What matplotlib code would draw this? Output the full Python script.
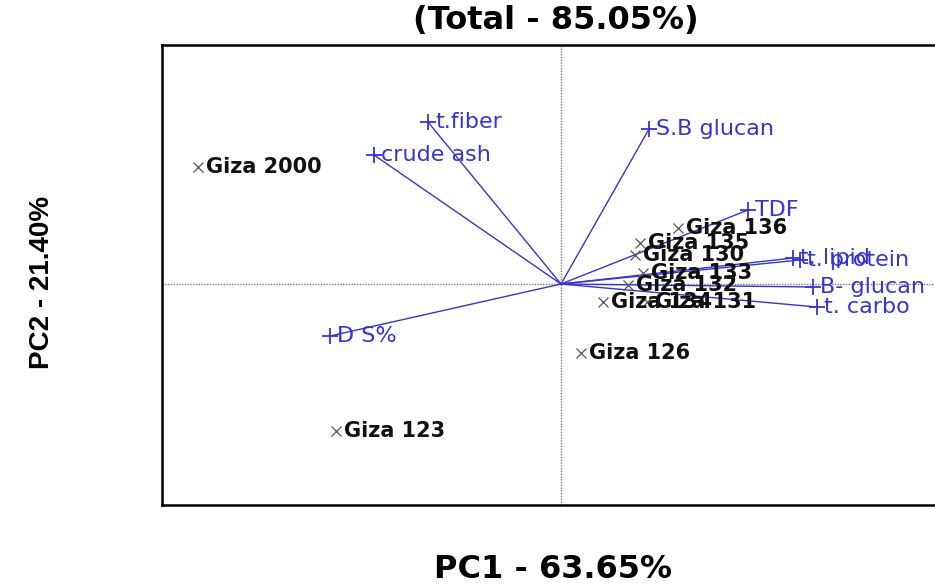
import matplotlib
matplotlib.use("Agg")
import matplotlib.pyplot as plt

plt.rcParams["font.family"] = ["DejaVu Sans"]

# genotype scores (PC1, PC2)
geno_names = ["Giza 2000", "Giza 123", "Giza 126", "Giza 136", "Giza 135", "Giza 130",
              "Giza 133", "Giza 132", "Giza 134", "Giza 131"]
geno_pc1 = [-3.63, -2.25, 0.20, 1.17, 0.79, 0.74, 0.82, 0.67, 0.42, 0.86]
geno_pc2 = [1.17, -1.47, -0.69, 0.56, 0.41, 0.29, 0.11, -0.01, -0.18, -0.18]

# trait loadings (PC1, PC2)
trait_names = ["t.fiber", "crude ash", "S.B glucan", "TDF", "t. lipid", "t. protein",
               "B- glucan", "t. carbo", "D S%"]
trait_pc1 = [-1.33, -1.87, 0.88, 1.87, 2.32, 2.39, 2.52, 2.56, -2.31]
trait_pc2 = [1.62, 1.29, 1.55, 0.74, 0.26, 0.24, -0.03, -0.23, -0.52]

blue = "#3535d0"

fig = plt.figure(figsize=(9.35, 5.86), dpi=100)
ax = fig.add_axes([162 / 935, 81 / 586, 798 / 935, 460 / 586])
ax.set_xlim(-3.99, 3.99)
ax.set_ylim(-2.21, 2.39)

ax.axvline(0, color="#777777", lw=1, ls=(0, (1, 1)))
ax.axhline(0, color="#777777", lw=1, ls=(0, (1, 1)))

for x, y, name in zip(trait_pc1, trait_pc2, trait_names):
    ax.plot([0, x], [0, y], color=blue, lw=1)
    ax.plot(x, y, marker="+", color=blue, ms=12, mew=1.3)
    ax.annotate(name, (x, y), xytext=(5, 0), textcoords="offset points",
                va="center", ha="left", color=blue, fontsize=16)

ax.plot(geno_pc1, geno_pc2, ls="none", marker="x", color="#555555", ms=6.5, mew=0.9)
for x, y, name in zip(geno_pc1, geno_pc2, geno_names):
    ax.annotate(name, (x, y), xytext=(6, 0), textcoords="offset points",
                va="center", ha="left", color="#111111", fontsize=15, fontweight="bold")

ax.set_xticks([])
ax.set_yticks([])
for side in ["left", "bottom", "top"]:
    ax.spines[side].set_linewidth(1.8)
ax.spines["right"].set_visible(False)

fig.text(556 / 935, 1 - 21 / 586, "(Total - 85.05%)", ha="center", va="center",
         fontsize=23, fontweight="bold")
fig.text(553 / 935, 1 - 570 / 586, "PC1 - 63.65%", ha="center", va="center",
         fontsize=23, fontweight="bold")
fig.text(42 / 935, 1 - 282 / 586, "PC2 - 21.40%", ha="center", va="center",
         fontsize=20, fontweight="bold", rotation=90, family="Liberation Sans")

fig.savefig("out.png", dpi=100)
